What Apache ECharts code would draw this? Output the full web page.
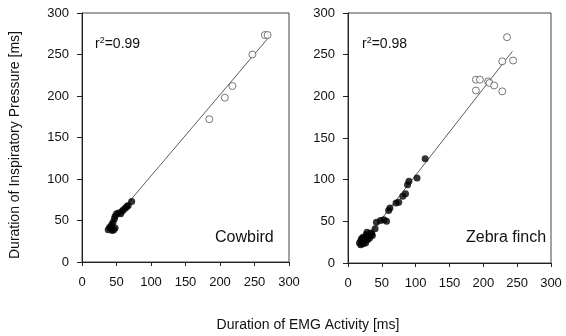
<!DOCTYPE html>
<html>
<head>
<meta charset="utf-8">
<script src="https://cdn.jsdelivr.net/npm/echarts@6/dist/echarts.min.js"></script>
<style>html,body{margin:0;padding:0;background:#fff}#c{width:566px;height:336px}</style>
</head>
<body>
<div id="c"></div>
<script>
// ---- data ----
const axisTicks = [0, 50, 100, 150, 200, 250, 300];
const cowbirdFilled = [[38,39],[40,42],[42,40],[44,38],[46,39],[48,41],[43,45],[45,48],[47,52],[48,55],[50,58],[53,59],[56,58],[58,61],[60,63],[63,65],[65,67],[67,68],[72,73]];
const cowbirdOpen = [[184.5,172],[207,198],[218,212],[247,250],[265,273.5],[269,273.5]];
const cowbirdFit = [[38,43],[271,271]];
const zebraFilled = [[17,24],[19,27],[20,29],[22,23],[24,30],[25,26],[27,34],[26,24],[29,28],[30,32],[32,30],[34,36],[36,33],[22,31],[19,22],[28,37],[30,33],[35,35],[40,41],[42,49],[48,51],[53,52],[57,50],[60,63],[62,66],[71,72],[75,73],[81,80],[85,83],[88,94],[90,98],[102,102],[114,125]];
const zebraOpen = [[189,207],[189,220],[195,220],[207,218],[209,216],[216,213],[228,206],[228,242],[244,243],[235,271]];
const zebraFit = [[16,18],[243,254]];

const FONT = '"Liberation Sans", Arial, sans-serif';
const chart = echarts.init(document.getElementById('c'));

function xAxis(i){
  return {gridIndex:i, type:'value', min:axisTicks[0], max:axisTicks[axisTicks.length-1], interval:50,
    axisLine:{show:true, onZero:false, lineStyle:{color:'#222', width:1}},
    axisTick:{show:true, inside:false, length:4, lineStyle:{color:'#222'}},
    axisLabel:{color:'#111', fontFamily:FONT, fontSize:13, margin:14},
    splitLine:{show:false}};
}
function yAxis(i){
  return {gridIndex:i, type:'value', min:axisTicks[0], max:axisTicks[axisTicks.length-1], interval:50,
    axisLine:{show:true, onZero:false, lineStyle:{color:'#222', width:1}},
    axisTick:{show:true, inside:false, length:5, lineStyle:{color:'#222'}},
    axisLabel:{color:'#111', fontFamily:FONT, fontSize:13, margin:13},
    splitLine:{show:false}};
}
const filledStyle = {color:'#000'};
const openStyle = {color:'#fff', borderColor:'#555', borderWidth:1};
const r2rich = {a:{fontSize:14, fontFamily:FONT, fill:'#111'}, s:{fontSize:9, fontFamily:FONT, fill:'#111', verticalAlign:'top', padding:[0,0,7,0]}};

chart.setOption({
  animation:false,
  grid:[
    {left:82, top:13, width:207, height:249, show:true, borderColor:'#444', borderWidth:1},
    {left:348, top:13, width:203, height:250, show:true, borderColor:'#444', borderWidth:1}
  ],
  xAxis:[xAxis(0), xAxis(1)],
  yAxis:[yAxis(0), yAxis(1)],
  series:[
    {type:'line', xAxisIndex:0, yAxisIndex:0, data:cowbirdFit, symbol:'none', lineStyle:{color:'#333', width:0.8}, z:1},
    {type:'scatter', xAxisIndex:0, yAxisIndex:0, data:cowbirdFilled, symbolSize:7, itemStyle:filledStyle, z:3},
    {type:'scatter', xAxisIndex:0, yAxisIndex:0, data:cowbirdOpen, symbolSize:7, itemStyle:openStyle, z:2},
    {type:'line', xAxisIndex:1, yAxisIndex:1, data:zebraFit, symbol:'none', lineStyle:{color:'#333', width:0.8}, z:1},
    {type:'scatter', xAxisIndex:1, yAxisIndex:1, data:zebraFilled, symbolSize:7, itemStyle:filledStyle, z:3},
    {type:'scatter', xAxisIndex:1, yAxisIndex:1, data:zebraOpen, symbolSize:7, itemStyle:openStyle, z:2}
  ],
  graphic:[
    {type:'text', left:95, top:36, style:{text:'{a|r}{s|2}{a|=0.99}', rich:r2rich}},
    {type:'text', left:362, top:36, style:{text:'{a|r}{s|2}{a|=0.98}', rich:r2rich}},
    {type:'text', x:215, y:238, style:{text:'Cowbird', fontSize:16, fontFamily:FONT, fill:'#111', verticalAlign:'middle'}},
    {type:'text', x:466, y:238, style:{text:'Zebra finch', fontSize:16, fontFamily:FONT, fill:'#111', verticalAlign:'middle'}},
    {type:'text', x:15, y:145, rotation:Math.PI/2, style:{text:'Duration of Inspiratory Pressure [ms]', fontSize:14, fontFamily:FONT, fill:'#111', align:'center', verticalAlign:'middle'}},
    {type:'text', x:308, y:325, style:{text:'Duration of EMG Activity [ms]', fontSize:14, fontFamily:FONT, fill:'#111', align:'center', verticalAlign:'middle'}}
  ]
});
</script>
</body>
</html>
